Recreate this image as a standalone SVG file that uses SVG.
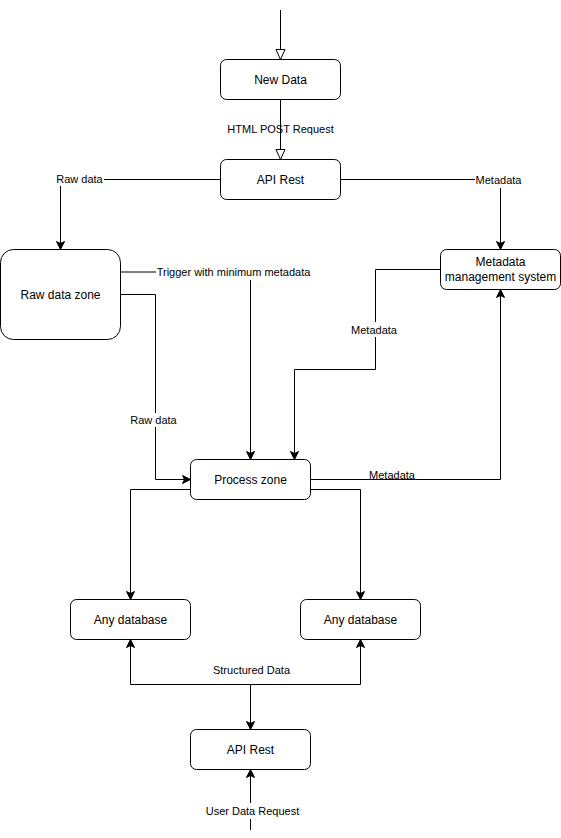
<svg xmlns="http://www.w3.org/2000/svg" width="561" height="838" viewBox="0 0 561 838">
<style>
.n{fill:#fff;stroke:#000;stroke-width:1}
.t{font-family:"Liberation Sans",Arial,sans-serif;font-size:12px;fill:#000;text-anchor:middle;dominant-baseline:central}
.l{font-family:"Liberation Sans",Arial,sans-serif;font-size:11px;fill:#000;text-anchor:middle;dominant-baseline:central}
.e{fill:none;stroke:#000;stroke-width:1}
.bg{fill:#fff}
</style>
<defs>
<marker id="a" markerUnits="userSpaceOnUse" markerWidth="10" markerHeight="10" refX="8" refY="4" orient="auto" overflow="visible">
<path d="M0,0 L8,4 L0,8 L2,4 Z" fill="#000" stroke="#000" stroke-width="1"/>
</marker>
<marker id="h" markerUnits="userSpaceOnUse" markerWidth="12" markerHeight="12" refX="10" refY="4.5" orient="auto" overflow="visible">
<path d="M0,0 L10,4.5 L0,9 Z" fill="#fff" stroke="#000" stroke-width="1"/>
</marker>
</defs>
<g id="connectors">
<path class="e" d="M280.5,10 V59.5" marker-end="url(#h)"/>
<path class="e" d="M280.5,99.5 V159.5" marker-end="url(#h)"/>
<text class="l" x="280.5" y="129">HTML POST Request</text>
<path class="e" d="M220.5,179.5 H60.5 V249.5" marker-end="url(#a)"/>
<rect class="bg" x="55" y="172" width="49" height="14"/>
<text class="l" x="79.5" y="179">Raw data</text>
<path class="e" d="M340.5,179.5 H500.5 V249.5" marker-end="url(#a)"/>
<rect class="bg" x="475" y="172" width="47" height="16"/>
<text class="l" x="498.5" y="180">Metadata</text>
<path class="e" d="M120.5,272 H250.5 V459.5" marker-end="url(#a)"/>
<rect class="bg" x="156" y="264" width="155" height="16"/>
<text class="l" x="233.5" y="272">Trigger with minimum metadata</text>
<path class="e" d="M120.5,294.5 H155.5 V479.5 H190.5" marker-end="url(#a)"/>
<rect class="bg" x="129" y="413" width="49" height="14"/>
<text class="l" x="153.5" y="420">Raw data</text>
<path class="e" d="M440.5,269.5 H375.5 V369.5 H294.5 V459.5" marker-end="url(#a)"/>
<rect class="bg" x="350" y="322" width="48" height="15"/>
<text class="l" x="374" y="330">Metadata</text>
<path class="e" d="M310.5,479.5 H500.5 V289.5" marker-end="url(#a)"/>
<rect class="bg" x="369" y="468" width="46" height="11"/>
<text class="l" x="392" y="475">Metadata</text>
<path class="e" d="M190.5,489.5 H130.5 V599.5" marker-end="url(#a)"/>
<path class="e" d="M310.5,489.5 H360.5 V599.5" marker-end="url(#a)"/>
<path class="e" d="M250.5,729.5 V684.5" />
<path class="e" d="M250.5,684.5 H130.5 V639.5" marker-end="url(#a)"/>
<path class="e" d="M250.5,684.5 H360.5 V639.5" marker-end="url(#a)"/>
<path class="e" d="M250.5,684.5 V729.5" marker-end="url(#a)"/>
<text class="l" x="251.5" y="670">Structured Data</text>
<path class="e" d="M250.5,830 V769.5" marker-end="url(#a)"/>
<rect class="bg" x="204" y="803" width="97" height="16"/>
<text class="l" x="252.5" y="811">User Data Request</text>
</g>
<g id="new-data"><rect class="n" x="220.5" y="59.5" width="120" height="40" rx="6"/><text class="t" x="280.5" y="79.5">New Data</text></g>
<g id="api-rest-top"><rect class="n" x="220.5" y="159.5" width="120" height="40" rx="6"/><text class="t" x="280.5" y="179.5">API Rest</text></g>
<g id="raw-data-zone"><rect class="n" x="0.5" y="249.5" width="120" height="90" rx="13"/><text class="t" x="60.5" y="294.5">Raw data zone</text></g>
<g id="metadata-mgmt"><rect class="n" x="440.5" y="249.5" width="120" height="40" rx="6"/><text class="t" x="500.5" y="262">Metadata</text><text class="t" x="500.5" y="276.5">management system</text></g>
<g id="process-zone"><rect class="n" x="190.5" y="459.5" width="120" height="40" rx="6"/><text class="t" x="250.5" y="479.5">Process zone</text></g>
<g id="db-left"><rect class="n" x="70.5" y="599.5" width="120" height="40" rx="6"/><text class="t" x="130.5" y="619.5">Any database</text></g>
<g id="db-right"><rect class="n" x="300.5" y="599.5" width="120" height="40" rx="6"/><text class="t" x="360.5" y="619.5">Any database</text></g>
<g id="api-rest-bottom"><rect class="n" x="190.5" y="729.5" width="120" height="40" rx="6"/><text class="t" x="250.5" y="749.5">API Rest</text></g>
</svg>
